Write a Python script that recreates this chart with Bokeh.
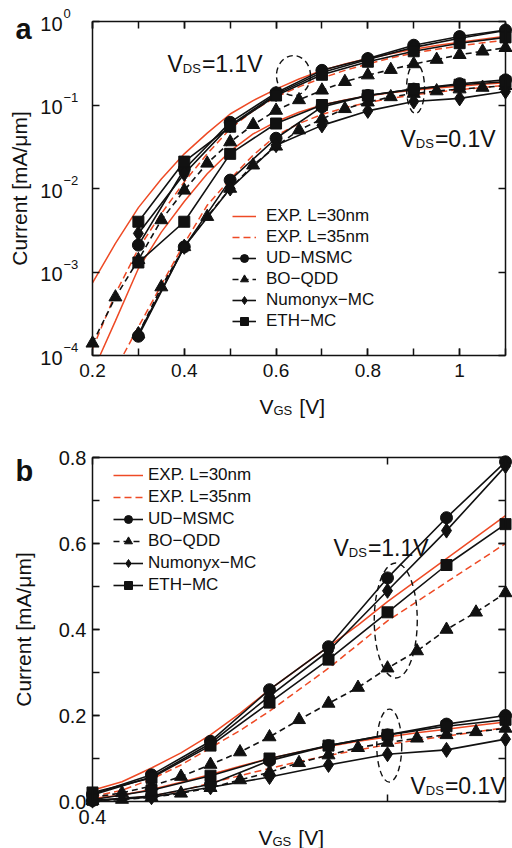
import math
from bokeh.plotting import figure
from bokeh.layouts import column
from bokeh.models import (Label, Legend, LegendItem, LinearAxis, LogAxis, FixedTicker,
                          SingleIntervalTicker, CustomJSTickFormatter, PrintfTickFormatter,
                          Range1d, ColumnDataSource, CDSView, BooleanFilter)
from bokeh.embed import file_html
from bokeh.resources import INLINE

FONT = "Liberation Sans"
RED = "#ee4a25"
INK = "#111111"
WIDTH = 512

# ---------------- measured / simulated drain current [mA/um] ----------------
VGS_SIM = [0.3, 0.4, 0.5, 0.6, 0.7, 0.8, 0.9, 1.0, 1.1]
UD_HI = [2.1e-3, 0.017, 0.062, 0.14, 0.26, 0.36, 0.52, 0.66, 0.79]
UD_LO = [1.7e-4, 2.0e-3, 0.0126, 0.040, 0.095, 0.13, 0.155, 0.18, 0.20]
NUM_HI = [2.9e-3, 0.015, 0.057, 0.135, 0.245, 0.35, 0.49, 0.63, 0.78]
NUM_LO = [1.8e-4, 2.0e-3, 0.010, 0.033, 0.057, 0.085, 0.11, 0.12, 0.145]
ETH_HI = [4.0e-3, 0.021, 0.055, 0.13, 0.23, 0.33, 0.44, 0.55, 0.645]
ETH_LO = [1.3e-3, 4.0e-3, 0.026, 0.06, 0.10, 0.13, 0.155, 0.175, 0.19]

VGS_BO_HI = [0.2, 0.25, 0.3, 0.35, 0.4, 0.45, 0.5, 0.55, 0.6, 0.65, 0.7,
             0.75, 0.8, 0.85, 0.9, 0.95, 1.0, 1.05, 1.1]
BO_HI = [1.4e-4, 5.0e-4, 1.4e-3, 4.2e-3, 9.5e-3, 0.020, 0.036, 0.058, 0.086, 0.115,
         0.15, 0.19, 0.228, 0.265, 0.31, 0.35, 0.40, 0.44, 0.485]
VGS_BO_LO = [0.3, 0.35, 0.4, 0.45, 0.5, 0.55, 0.6, 0.65, 0.7,
             0.75, 0.8, 0.85, 0.9, 0.95, 1.0, 1.05, 1.1]
BO_LO = [1.8e-4, 6.6e-4, 2.0e-3, 4.6e-3, 0.010, 0.019, 0.032, 0.05, 0.068, 0.09,
         0.108, 0.125, 0.137, 0.147, 0.155, 0.162, 0.17]

VGS_EXP = [0.2, 0.25, 0.3, 0.35, 0.4, 0.45, 0.5, 0.55, 0.6, 0.65, 0.7,
           0.75, 0.8, 0.85, 0.9, 0.95, 1.0, 1.05, 1.1]
EXP30_HI = [7.4e-4, 2.2e-3, 5.9e-3, 0.013, 0.026, 0.046, 0.078, 0.113, 0.155, 0.205,
            0.26, 0.31, 0.36, 0.41, 0.465, 0.515, 0.565, 0.615, 0.665]
EXP35_HI = [1.2e-4, 5.5e-4, 1.9e-3, 5.0e-3, 0.012, 0.026, 0.052, 0.085, 0.125, 0.165,
            0.21, 0.26, 0.31, 0.365, 0.42, 0.465, 0.51, 0.555, 0.6]
EXP30_LO = [6.3e-5, 2.6e-4, 1.1e-3, 3.0e-3, 7.0e-3, 0.015, 0.028, 0.045, 0.063, 0.082,
            0.10, 0.115, 0.128, 0.14, 0.15, 0.16, 0.168, 0.177, 0.185]
EXP35_LO = [1.5e-5, 6.8e-5, 2.2e-4, 7.0e-4, 2.2e-3, 6.3e-3, 0.013, 0.025, 0.043, 0.06,
            0.077, 0.093, 0.107, 0.12, 0.132, 0.143, 0.152, 0.162, 0.172]

LOG_TICKS = [1e-4, 1e-3, 1e-2, 1e-1, 1.0]
LOG_EXPONENTS = ["\u22124", "\u22123", "\u22122", "\u22121", "0"]

LEGEND_LABELS = ["EXP. L=30nm", "EXP. L=35nm", "UD\u2212MSMC", "BO\u2212QDD",
                 "Numonyx\u2212MC", "ETH\u2212MC"]

# dashed ellipses that group the two bias conditions (centre in data units, size in px)
ELL_TOP_X, ELL_TOP_Y = [0.638, 0.904], [0.225, 0.158]
ELL_TOP_W, ELL_TOP_H = [34, 18], [40, 50]
ELL_BOT_X, ELL_BOT_Y = [0.914, 0.903], [0.421, 0.130]
ELL_BOT_W, ELL_BOT_H = [43, 25], [115, 73]

# series: (x, y at Vds=1.1, x, y at Vds=0.1, marker, size, dash)
SIM = [
    (VGS_SIM, UD_HI, VGS_SIM, UD_LO, "circle", 12, "solid"),
    (VGS_BO_HI, BO_HI, VGS_BO_LO, BO_LO, "triangle", 13, "6 4"),
    (VGS_SIM, NUM_HI, VGS_SIM, NUM_LO, "diamond", 15, "solid"),
    (VGS_SIM, ETH_HI, VGS_SIM, ETH_LO, "square", 11, "solid"),
]

ARIAL_W = {"V": 0.667, "D": 0.722, "S": 0.667, "G": 0.778, "=": 0.584, "1": 0.556,
           "0": 0.556, ".": 0.278, " ": 0.278, "[": 0.278, "]": 0.278}


def text_w(s, size):
    return sum(ARIAL_W.get(c, 0.556) for c in s) * size


def make_panel(height, box, xr, yr, log):
    """Figure whose frame is the whole canvas; the plotting box sits at `box` (px)."""
    left, right, top, bottom = box
    sx = (xr[1] - xr[0]) / (right - left)
    x_start, x_end = xr[0] - left * sx, xr[1] + (WIDTH - right) * sx
    if log:
        y0, y1 = math.log10(yr[0]), math.log10(yr[1])
    else:
        y0, y1 = yr
    sy = (y1 - y0) / (bottom - top)
    ys, ye = y0 - (height - bottom) * sy, y1 + top * sy
    # a few pixels beyond the canvas, used for the white margins
    pad_x, pad_y = 6 * sx, 6 * sy
    mx = (x_start - pad_x, x_end + pad_x)
    my = (ys - pad_y, ye + pad_y)
    if log:
        ys, ye = 10 ** ys, 10 ** ye
        my = (10 ** my[0], 10 ** my[1])
    p = figure(width=WIDTH, height=height, x_range=Range1d(x_start, x_end),
               y_range=Range1d(ys, ye), y_axis_type="log" if log else "linear",
               min_border=0, output_backend="svg", toolbar_location=None)
    p.outline_line_color = None
    p.xgrid.visible = False
    p.ygrid.visible = False
    p.background_fill_color = "white"
    p.border_fill_color = "white"
    fr = {"x0": xr[0], "y0": yr[0], "left": left, "bottom": bottom,
          "mx": mx, "my": my, "xr": xr, "yr": yr}
    return p, fr


def style_axis(ax, labels=True, size="19px", standoff=8):
    ax.major_tick_in = 7
    ax.major_tick_out = 0
    ax.minor_tick_in = 7
    ax.minor_tick_out = 0
    ax.axis_line_color = INK
    ax.axis_line_width = 1.5
    ax.major_tick_line_color = INK
    ax.minor_tick_line_color = INK
    ax.major_tick_line_width = 1.5
    ax.minor_tick_line_width = 1.5
    ax.major_label_text_font = FONT
    ax.major_label_text_color = INK
    ax.major_label_text_font_size = size
    ax.major_label_standoff = standoff
    ax.axis_label = None
    if not labels:
        ax.formatter = CustomJSTickFormatter(code="return '';")
        ax.major_label_text_font_size = "0px"
        ax.major_label_standoff = 0


def put(p, fr, px, py, text, size, bold=False, align="left", baseline="alphabetic", angle=0):
    """Place text at a pixel position of the canvas (y measured downwards)."""
    p.add_layout(Label(x=fr["x0"], y=fr["y0"], x_offset=px - fr["left"],
                       y_offset=fr["bottom"] - py, text=text, text_font=FONT,
                       text_font_size=f"{size}px",
                       text_font_style="bold" if bold else "normal",
                       text_align=align, text_baseline=baseline, text_color=INK,
                       angle=angle, angle_units="deg"))


def put_sub(p, fr, px, py, base, sub, rest, size, sub_size, drop, gap=1):
    put(p, fr, px, py, base, size)
    x = px + text_w(base, size)
    put(p, fr, x, py + drop, sub, sub_size)
    x += text_w(sub, sub_size) + gap
    put(p, fr, x, py, rest, size)


def mask_outside(p, fr):
    """White margins so that curves stop at the plotting box."""
    xs, xe = fr["mx"]
    ys, ye = fr["my"]
    (x0, x1), (y0, y1) = fr["xr"], fr["yr"]
    p.quad(left=[xs, x1, xs, xs], right=[x0, xe, xe, xe],
           bottom=[ys, ys, ys, y1], top=[ye, ye, y0, ye],
           fill_color="white", line_color=None)


def curve(p, fr, xs, ys, **kw):
    """Line through the points from one grid step left of the box onwards."""
    lo = fr["xr"][0] - 0.1 - 1e-9
    src = ColumnDataSource(dict(x=xs, y=ys))
    view = CDSView(filter=BooleanFilter([v >= lo for v in xs]))
    return p.line("x", "y", source=src, view=view, **kw)


def draw_series(p, fr):
    x_min = fr["xr"][0] - 1e-9
    r30 = curve(p, fr, VGS_EXP, EXP30_HI, line_color=RED, line_width=1.5)
    curve(p, fr, VGS_EXP, EXP30_LO, line_color=RED, line_width=1.5)
    r35 = curve(p, fr, VGS_EXP, EXP35_HI, line_color=RED, line_width=1.5, line_dash="7 4")
    curve(p, fr, VGS_EXP, EXP35_LO, line_color=RED, line_width=1.5, line_dash="7 4")
    lines = []
    for (xh, yh, xl, yl, marker, size, dash) in SIM:
        lh = curve(p, fr, xh, yh, line_color=INK, line_width=1.6, line_dash=dash)
        curve(p, fr, xl, yl, line_color=INK, line_width=1.6, line_dash=dash)
        lines.append(lh)
    mask_outside(p, fr)
    items = [LegendItem(label=LEGEND_LABELS[0], renderers=[r30]),
             LegendItem(label=LEGEND_LABELS[1], renderers=[r35])]
    for k, (xh, yh, xl, yl, marker, size, dash) in enumerate(SIM):
        marks = []
        for xs, ys in ((xh, yh), (xl, yl)):
            src = ColumnDataSource(dict(x=xs, y=ys))
            view = CDSView(filter=BooleanFilter([v >= x_min for v in xs]))
            marks.append(p.scatter("x", "y", source=src, view=view, marker=marker,
                                   size=size, fill_color=INK, line_color=INK))
        items.append(LegendItem(label=LEGEND_LABELS[k + 2], renderers=[lines[k], marks[0]]))
    return items


def add_legend(p, items, loc, glyph_w, standoff, spacing):
    leg = Legend(items=items, location=loc, glyph_width=glyph_w, glyph_height=20,
                 label_height=20, label_width=10, spacing=spacing, padding=0, margin=0,
                 label_standoff=standoff, label_text_font=FONT, label_text_font_size="17px",
                 label_text_color=INK, background_fill_alpha=0, border_line_alpha=0)
    p.add_layout(leg)


# ---------------- panel a: logarithmic current ----------------
top, FR_TOP = make_panel(420, (92, 505, 21, 355), (0.2, 1.1), (1e-4, 1.0), log=True)

ax = top.xaxis[0]
ax.fixed_location = 1e-4
ax.bounds = (0.2, 1.1)
ax.ticker = SingleIntervalTicker(interval=0.2, num_minor_ticks=2)
ax.formatter = CustomJSTickFormatter(code="return String(Math.round(tick * 10) / 10);")
style_axis(ax, size="19px", standoff=8)

ay = top.yaxis[0]
ay.fixed_location = 0.2
ay.bounds = (1e-4, 1.0)
ay.ticker = FixedTicker(ticks=LOG_TICKS)
style_axis(ay, labels=False)

ax_t = LinearAxis(ticker=SingleIntervalTicker(interval=0.2, num_minor_ticks=2),
                  fixed_location=1.0, bounds=(0.2, 1.1))
style_axis(ax_t, labels=False)
top.add_layout(ax_t, "above")
ax_r = LogAxis(ticker=FixedTicker(ticks=LOG_TICKS), fixed_location=1.1, bounds=(1e-4, 1.0))
style_axis(ax_r, labels=False)
top.add_layout(ax_r, "right")

items_top = draw_series(top, FR_TOP)
top.ellipse(x=ELL_TOP_X, y=ELL_TOP_Y, width=ELL_TOP_W, height=ELL_TOP_H,
            width_units="screen", height_units="screen", fill_alpha=0,
            line_color=INK, line_width=1.4, line_dash="6 4")
add_legend(top, items_top, (232, 89), 24, 10, 1)

# decade labels 10^n
for t, ex in zip(LOG_TICKS, LOG_EXPONENTS):
    top.add_layout(Label(x=0.2, y=t, x_offset=-30, y_offset=-2, text="10", text_font=FONT,
                         text_font_size="20px", text_align="right", text_baseline="middle",
                         text_color=INK))
    top.add_layout(Label(x=0.2, y=t, x_offset=-29, y_offset=8, text=ex, text_font=FONT,
                         text_font_size="13px", text_align="left", text_baseline="middle",
                         text_color=INK))

put(top, FR_TOP, 15, 28, "a", 29, bold=True)
put(top, FR_TOP, 19, 188, "Current [mA/\u03bcm]", 21, align="center", baseline="middle", angle=90)
put_sub(top, FR_TOP, 259, 406, "V", "GS", "[V]", 21, 13, 4, gap=7)
put_sub(top, FR_TOP, 167, 63, "V", "DS", "=1.1V", 23, 13, 5)
put_sub(top, FR_TOP, 400, 138, "V", "DS", "=0.1V", 23, 13, 5)

# ---------------- panel b: linear current ----------------
bot, FR_BOT = make_panel(428, (92, 505, 37, 381), (0.4, 1.1), (0.0, 0.8), log=False)

bx = bot.xaxis[0]
bx.fixed_location = 0.0
bx.bounds = (0.4, 1.1)
bx.ticker = FixedTicker(ticks=[0.4, 0.9])
bx.formatter = CustomJSTickFormatter(code="return tick < 0.5 ? '0.4' : '';")
style_axis(bx, size="20px", standoff=8)

by = bot.yaxis[0]
by.fixed_location = 0.4
by.bounds = (0.0, 0.8)
by.ticker = SingleIntervalTicker(interval=0.2, num_minor_ticks=2)
by.formatter = PrintfTickFormatter(format="%.1f")
style_axis(by, size="20px", standoff=6)

bx_t = LinearAxis(ticker=FixedTicker(ticks=[0.4, 0.9]), fixed_location=0.8, bounds=(0.4, 1.1))
style_axis(bx_t, labels=False)
bot.add_layout(bx_t, "above")
by_r = LinearAxis(ticker=SingleIntervalTicker(interval=0.2, num_minor_ticks=2),
                  fixed_location=1.1, bounds=(0.0, 0.8))
style_axis(by_r, labels=False)
bot.add_layout(by_r, "right")

items_bot = draw_series(bot, FR_BOT)
bot.ellipse(x=ELL_BOT_X, y=ELL_BOT_Y, width=ELL_BOT_W, height=ELL_BOT_H,
            width_units="screen", height_units="screen", fill_alpha=0,
            line_color=INK, line_width=1.4, line_dash="6 4")
add_legend(bot, items_bot, (113, 253), 30, 5, 2)

put(bot, FR_BOT, 15, 50, "b", 29, bold=True)
put(bot, FR_BOT, 23, 209, "Current [mA/\u03bcm]", 21, align="center", baseline="middle", angle=90)
put_sub(bot, FR_BOT, 258, 417, "V", "GS", "[V]", 21, 13, 4, gap=7)
put_sub(bot, FR_BOT, 333, 127, "V", "DS", "=1.1V", 23, 13, 5)
put_sub(bot, FR_BOT, 410, 365, "V", "DS", "=0.1V", 23, 13, 5)

layout = column(top, bot)
with open("out.html", "w") as f:
    f.write(file_html(layout, INLINE))
